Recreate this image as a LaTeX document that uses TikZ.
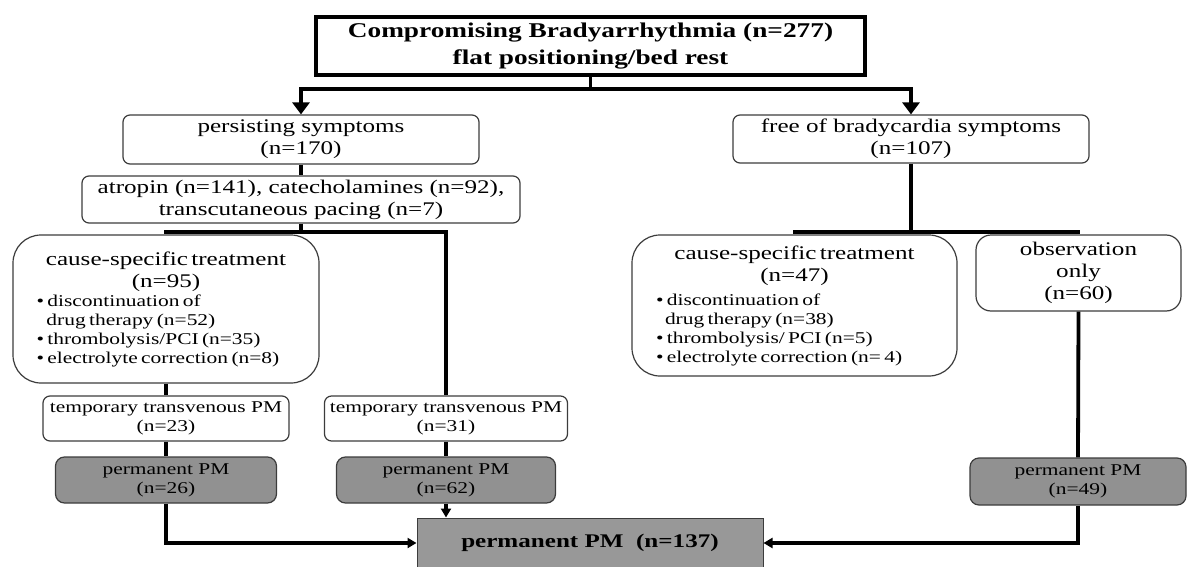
\documentclass[tikz,border=0pt]{standalone}
\usepackage{fontspec}
\setmainfont{Liberation Serif}[FakeStretch=1.3]
\usetikzlibrary{arrows.meta}
\definecolor{permgrey}{RGB}{145,145,145}
\definecolor{finalgrey}{RGB}{152,152,152}
\definecolor{edgegrey}{RGB}{60,60,60}
\newcommand{\fTitle}{\fontsize{21}{27}\selectfont\bfseries}
\newcommand{\fMain}{\fontsize{19.3}{22}\selectfont}
\newcommand{\fSmall}{\fontsize{16.5}{19}\selectfont}
\tikzset{
  base/.style={draw=edgegrey, line width=1.2pt, inner sep=0pt, fill=white},
  box/.style={base, rounded corners=7pt, align=center, font=\fMain},
  smallbox/.style={base, rounded corners=7pt, align=center, font=\fSmall},
  greybox/.style={smallbox, rounded corners=9pt, fill=permgrey},
  listbox/.style={base, rounded corners=28pt},
  conn/.style={line width=3.8pt, black},
  bigarrow/.style={-{Triangle[width=17pt,length=12pt]}},
  smallarrow/.style={-{Triangle[width=10pt,length=9pt]}}
}
\begin{document}
\begin{tikzpicture}[x=1pt,y=-1pt]
\useasboundingbox (0,0) rectangle (1188,567);

% top box
\node[draw, line width=4.5pt, fill=white, inner sep=0pt, minimum width=549pt, minimum height=58pt, align=center, font=\fTitle] (top) at (590.5,46)
  {Compromising Bradyarrhythmia (n=277)\\flat positioning/bed rest};

% second level
\node[box, minimum width=356pt, minimum height=49pt] (pers) at (301,139.5) {persisting symptoms\\(n=170)};
\node[box, minimum width=356pt, minimum height=48pt] (free) at (911,139) {free of bradycardia symptoms\\(n=107)};

\node[box, minimum width=438pt, minimum height=47pt] (atro) at (301,199.5)
  {atropin (n=141), catecholamines (n=92),\\transcutaneous pacing (n=7)};

% cause-specific boxes
\node[listbox, minimum width=306pt, minimum height=148pt, text width=259pt] (cause1) at (166,309)
  {\fMain\centering cause-specific treatment\\(n=95)\par
   \fSmall\raggedright • discontinuation of\\\hspace*{10pt}drug therapy (n=52)\\• thrombolysis/PCI (n=35)\\• electrolyte correction (n=8)\par};

\node[listbox, minimum width=325pt, minimum height=141pt, text width=277pt] (cause2) at (794.5,305.5)
  {\fMain\centering cause-specific treatment\\(n=47)\par\vspace{5pt}
   \fSmall\raggedright • discontinuation of\\\hspace*{9pt}drug therapy (n=38)\\• thrombolysis/ PCI (n=5)\\• electrolyte correction (n= 4)\par};

\node[box, rounded corners=15pt, minimum width=205pt, minimum height=76pt] (obs) at (1078.5,273)
  {observation\\only\\(n=60)};

% temporary PM
\node[smallbox, minimum width=246pt, minimum height=45pt] (temp1) at (166,418.5) {temporary transvenous PM\\(n=23)};
\node[smallbox, minimum width=243pt, minimum height=45pt] (temp2) at (446,418.5) {temporary transvenous PM\\(n=31)};

% permanent PM
\node[greybox, minimum width=221pt, minimum height=46pt] (perm1) at (166,480) {permanent PM\\(n=26)};
\node[greybox, minimum width=219pt, minimum height=46pt] (perm2) at (446,480) {permanent PM\\(n=62)};
\node[greybox, minimum width=216pt, minimum height=47pt] (perm3) at (1078,481.5) {permanent PM\\(n=49)};

% final
\node[draw=edgegrey, line width=1pt, fill=finalgrey, inner sep=0pt, minimum width=346pt, minimum height=50pt, font=\fMain\bfseries] (final) at (590,543)
  {permanent PM\ \ (n=137)};

% connectors
\coordinate (j0) at (590.5,89);
\coordinate (j1) at (301,232);
\coordinate (j2) at (911,232);

\draw[conn] (top.south) -- (j0);
\draw[conn, bigarrow] (j0) -| (pers.north);
\draw[conn, bigarrow] (j0) -| (free.north);

\draw[conn] (pers.south) -- (atro.north);
\draw[conn] (atro.south) -- (j1);
\draw[conn] (j1) -| (cause1.north);
\draw[conn] (j1) -| (temp2.north);
\draw[conn] (cause1.south) -- (temp1.north);
\draw[conn] (temp1.south) -- (perm1.north);
\draw[conn] (temp2.south) -- (perm2.north);
\draw[conn, smallarrow] (perm1.south) |- (final.west);
\draw[conn, smallarrow] (perm2.south) -- (perm2.south |- final.north);

\draw[conn] (free.south) -- (j2);
\draw[conn] (j2) -| (cause2.north);
\draw[conn] (j2) -| (obs.north);
\draw[conn] (obs.south) -- (perm3.north);
\draw[conn, smallarrow] (perm3.south) |- (final.east);
\end{tikzpicture}
\end{document}
